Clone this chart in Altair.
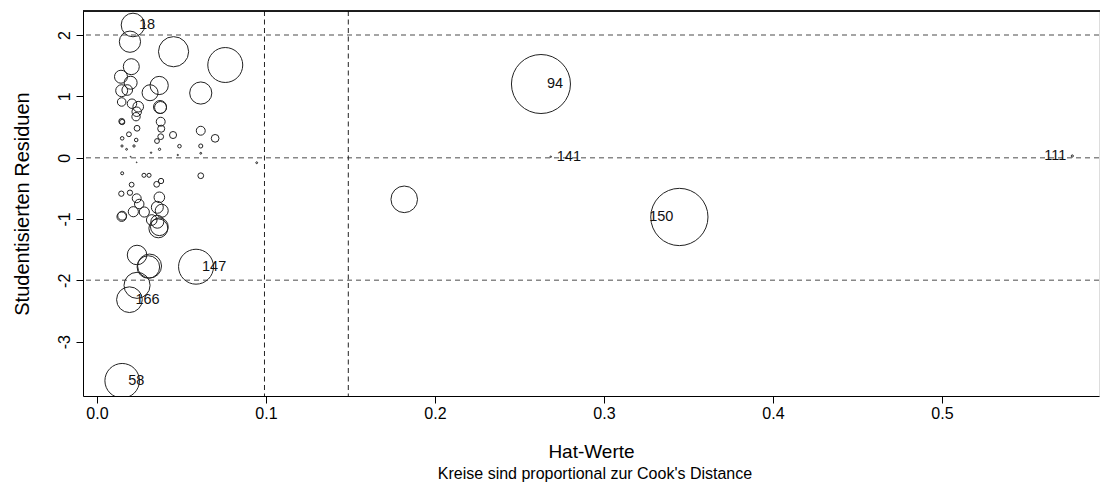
import altair as alt
import pandas as pd

# Hat values, studentized residuals, Cook's distances
hat = [0.0213, 0.0195, 0.0453, 0.0759, 0.0203, 0.0142, 0.0199, 0.0368, 0.0146, 0.0179,
       0.0314, 0.0614, 0.0146, 0.0207, 0.0244, 0.0235, 0.0231, 0.0373, 0.0376, 0.0377,
       0.0380, 0.0377, 0.0355, 0.0450, 0.0614, 0.0699, 0.0237, 0.0146, 0.0149, 0.0149,
       0.0189, 0.0232, 0.0488, 0.0614, 0.0148, 0.0175, 0.0219, 0.0370, 0.0320, 0.0478,
       0.0614, 0.0199, 0.0235, 0.0945, 0.0149, 0.0278, 0.0308, 0.0614, 0.0379, 0.0353,
       0.0205, 0.0144, 0.0195, 0.0235, 0.0369, 0.0250, 0.0357, 0.0383, 0.0215, 0.0280,
       0.0146, 0.0149, 0.0324, 0.0357, 0.0363, 0.0369, 0.0237, 0.0311, 0.0304, 0.0586,
       0.0237, 0.0192, 0.0149, 0.1818, 0.2627, 0.3446, 0.2685, 0.5771]
rstud = [2.165, 1.892, 1.729, 1.512, 1.485, 1.321, 1.223, 1.178, 1.093, 1.104,
         1.060, 1.055, 0.909, 0.881, 0.832, 0.750, 0.669, 0.827, 0.819, 0.587,
         0.473, 0.343, 0.272, 0.370, 0.440, 0.316, 0.480, 0.594, 0.582, 0.316,
         0.382, 0.289, 0.188, 0.191, 0.191, 0.137, 0.191, 0.137, 0.082, 0.044,
         0.072, 0.016, -0.075, -0.082, -0.254, -0.287, -0.287, -0.294, -0.380, -0.434,
         -0.440, -0.587, -0.571, -0.662, -0.646, -0.755, -0.809, -0.865, -0.881, -0.886,
         -0.962, -0.946, -1.016, -1.044, -1.152, -1.126, -1.587, -1.767, -1.783, -1.778,
         -2.082, -2.316, -3.638, -0.679, 1.202, -0.967, 0.016, 0.028]
cook = [0.0168, 0.0136, 0.0274, 0.0368, 0.0077, 0.0051, 0.0051, 0.0100, 0.0043, 0.0034,
        0.0077, 0.0148, 0.0022, 0.0027, 0.0034, 0.0027, 0.0021, 0.0051, 0.0043, 0.0024,
        0.0015, 0.0010, 0.0007, 0.0015, 0.0024, 0.0018, 0.0010, 0.0010, 0.00085, 0.00038,
        0.0007, 0.00038, 0.00038, 0.0005, 0.00014, 0.0001, 0.00016, 0.00016, 0.00006, 0.00005,
        0.0001, 0.00002, 0.00002, 0.0001, 0.00027, 0.0005, 0.0005, 0.0010, 0.00085, 0.0010,
        0.0007, 0.00085, 0.00085, 0.0024, 0.0034, 0.0027, 0.0043, 0.0051, 0.0031, 0.0031,
        0.0027, 0.0024, 0.0034, 0.0051, 0.0108, 0.0095, 0.0115, 0.0173, 0.0153, 0.0368,
        0.0205, 0.0199, 0.0360, 0.0213, 0.1050, 0.0988, 0.00006, 0.00014]
labels = [""] * len(hat)
labels[0] = "18"
labels[69] = "147"
labels[71] = "166"
labels[72] = "58"
labels[74] = "94"
labels[75] = "150"
labels[76] = "141"
labels[77] = "111"
left_side = ["150", "111"]

hlines = [-2, 0, 2]
vlines = [0.0991, 0.1487]
x_ticks = [0.0, 0.1, 0.2, 0.3, 0.4, 0.5]
y_ticks = [-3, -2, -1, 0, 1, 2]

df = pd.DataFrame({"hat": hat, "rstud": rstud, "cook": cook, "label": labels})
df["side"] = ["L" if l in left_side else ("R" if l else "") for l in labels]

W, H = 1016, 385
FONT = "Liberation Sans"

xs = alt.Scale(domain=[-0.00828, 0.5929], nice=False, zero=False)
ys = alt.Scale(domain=[-3.887, 2.393], nice=False, zero=False)

x_axis = alt.Axis(values=x_ticks, format=".1f", grid=False, title="Hat-Werte",
                  titleFontSize=19, titleFontWeight="normal", titleFont=FONT,
                  titlePadding=21, labelFontSize=16, labelFont=FONT, labelPadding=2,
                  tickSize=7, tickColor="black", domainColor="black", labelColor="black",
                  titleColor="black", labelFlush=False)
y_axis = alt.Axis(values=y_ticks, grid=False, title="Studentisierten Residuen",
                  titleFontSize=20, titleFontWeight="normal", titleFont=FONT,
                  titlePadding=24, labelFontSize=16, labelFont=FONT, labelAngle=270,
                  labelAlign="center", labelBaseline="bottom", labelPadding=4,
                  labelExpr="datum.value < 0 ? '-' + abs(datum.value) : '' + datum.value",
                  tickSize=7, tickColor="black", domainColor="black", labelColor="black",
                  titleColor="black", labelFlush=False)

base = alt.Chart(df)

points = base.mark_point(shape="circle", filled=False, stroke="#222", strokeWidth=1,
                         opacity=1, clip=True).encode(
    x=alt.X("hat:Q", scale=xs, axis=x_axis),
    y=alt.Y("rstud:Q", scale=ys, axis=y_axis),
    size=alt.Size("cook:Q", scale=alt.Scale(domain=[0, 0.105], range=[0, 3484], zero=True),
                  legend=None),
)

lab_r = base.transform_filter("datum.side == 'R'").mark_text(
    align="left", baseline="middle", dx=6, fontSize=14.5, font=FONT, color="#111").encode(
    x=alt.X("hat:Q", scale=xs), y=alt.Y("rstud:Q", scale=ys), text="label:N")
lab_l = base.transform_filter("datum.side == 'L'").mark_text(
    align="right", baseline="middle", dx=-6, fontSize=14.5, font=FONT, color="#111").encode(
    x=alt.X("hat:Q", scale=xs), y=alt.Y("rstud:Q", scale=ys), text="label:N")

hdf = pd.DataFrame({"h": hlines})
vdf = pd.DataFrame({"v": vlines})
hrules = alt.Chart(hdf).mark_rule(color="#888", strokeWidth=1.5, strokeDash=[5, 4]).encode(
    y=alt.Y("h:Q", scale=ys))
vrules = alt.Chart(vdf).mark_rule(color="#222", strokeWidth=1, strokeDash=[5, 3.5]).encode(
    x=alt.X("v:Q", scale=xs))

top_border = alt.Chart(hdf).mark_rule(color="black", strokeWidth=1).encode(
    y=alt.value(0), x=alt.value(0), x2=alt.value(W + 10))

subtitle = alt.Chart(pd.DataFrame({"t": ["Kreise sind proportional zur Cook's Distance"]})).mark_text(
    fontSize=16, font=FONT, color="black", align="center", baseline="middle").encode(
    text="t:N", x=alt.value(W / 2 + 4), y=alt.value(463))

chart = alt.layer(hrules, vrules, points, lab_r, lab_l, top_border, subtitle).properties(
    width=W, height=H,
    autosize=alt.AutoSizeParams(type="none"),
    padding={"left": 83, "top": 11, "right": 1, "bottom": 87},
).configure_view(stroke=None).configure(background="white")

chart.save("out.html", embed_options={"renderer": "svg", "actions": False})
